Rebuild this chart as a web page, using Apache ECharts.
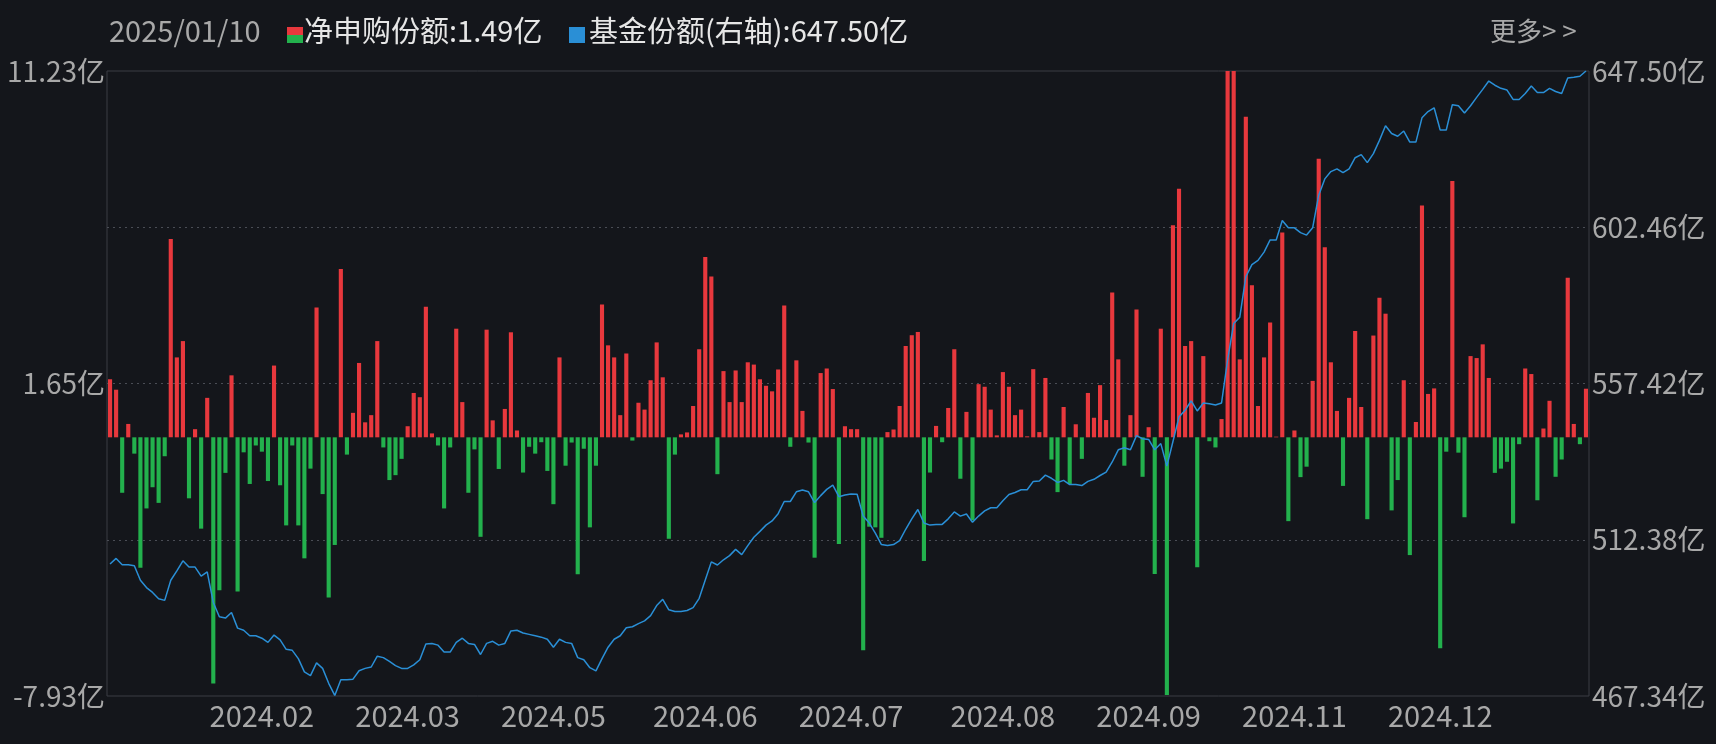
<!DOCTYPE html>
<html><head><meta charset="utf-8">
<script src="https://cdn.jsdelivr.net/npm/echarts@6/dist/echarts.min.js"></script>
<style>html,body{margin:0;padding:0;background:#14161b;}#c{width:1716px;height:744px;}</style>
</head><body><div id="c"></div>
<script>
// Net subscription (亿), one per trading day, oldest first
const netSub = [
1.78,1.46,-1.70,0.41,-0.50,-4.00,-2.18,-1.53,-2.01,-0.58,
6.08,2.45,2.95,-1.87,0.25,-2.80,1.21,-7.55,-4.69,-1.09,
1.90,-4.73,-0.46,-1.43,-0.25,-0.44,-1.34,2.20,-1.47,-2.70,
-0.25,-2.70,-3.71,-0.96,3.98,-1.74,-4.91,-3.30,5.16,-0.53,
0.75,2.28,0.46,0.68,2.95,-0.31,-1.31,-1.16,-0.66,0.34,
1.36,1.23,4.00,0.12,-0.25,-2.18,-0.31,3.33,1.08,-1.70,
-0.37,-3.05,3.30,0.52,-0.97,0.87,3.22,0.21,-1.08,-0.29,
-0.50,-0.15,-1.03,-2.05,2.45,-0.87,-0.16,-4.20,-0.35,-2.76,
-0.87,4.07,2.82,2.45,0.68,2.57,-0.10,1.06,0.85,1.75,
2.91,1.84,-3.11,-0.53,0.09,0.15,0.96,2.70,5.53,4.93,
-1.13,2.03,1.08,2.05,1.08,2.30,2.23,1.78,1.58,1.41,
2.08,4.04,-0.29,2.36,0.81,-0.16,-3.69,1.97,2.11,1.48,
-3.27,0.34,0.25,0.25,-6.53,-2.74,-2.76,-3.08,0.16,0.24,
0.96,2.80,3.13,3.23,-3.79,-1.08,0.35,-0.15,0.90,2.70,
-1.27,0.78,-2.55,1.63,1.55,0.85,0.06,2.00,1.55,0.68,
0.85,0.03,2.09,0.16,1.82,-0.68,-1.68,0.93,-1.43,0.40,
-0.66,1.36,0.60,1.60,0.53,4.44,2.39,-0.87,0.68,3.92,
-1.21,0.31,-4.19,3.33,-7.90,6.50,7.62,2.80,2.95,-3.98,
2.49,-0.12,-0.31,0.56,11.80,11.60,2.39,9.83,4.66,0.96,
2.45,3.52,0.02,6.28,-2.57,0.21,-1.22,-0.90,1.73,8.54,
5.83,2.30,0.81,-1.49,1.21,3.26,0.93,-2.51,3.12,4.28,
3.79,-2.24,-1.31,1.75,-3.61,0.47,7.11,1.33,1.50,-6.47,
-0.44,7.86,-0.47,-2.45,2.49,2.43,2.85,1.82,-1.09,-0.96,
-0.75,-2.64,-0.21,2.11,1.94,-1.93,0.27,1.12,-1.21,-0.68,
4.89,0.41,-0.21,1.49
];
// Fund shares (亿, right axis)
const fundShares = [
505.4,507.0,505.2,505.2,504.9,500.7,498.6,497.2,495.4,494.9,
500.7,503.4,506.3,504.5,504.5,501.9,503.1,494.3,490.2,489.8,
491.4,486.9,486.3,484.7,484.7,484.0,482.8,484.9,483.5,480.8,
480.5,478.1,474.3,473.2,476.9,475.3,471.0,467.5,472.0,472.0,
472.2,474.6,475.3,475.7,478.8,478.4,477.3,476.1,475.3,475.3,
476.3,477.8,482.3,482.5,482.0,480.0,480.0,482.8,484.0,482.5,
482.2,479.3,482.5,483.1,482.0,482.5,486.1,486.3,485.5,485.1,
484.7,484.3,483.7,481.4,483.7,482.8,482.5,478.4,477.8,475.5,
474.6,478.1,481.4,483.7,484.7,487.0,487.3,488.2,489.0,490.5,
493.4,495.2,492.2,491.7,491.7,492.0,492.8,495.5,500.8,506.0,
505.1,506.6,507.8,509.6,508.1,510.7,513.1,514.8,516.6,517.8,
519.9,523.4,523.4,526.2,526.7,526.2,523.1,525.1,526.9,528.1,
524.8,525.3,525.6,525.5,519.2,517.2,514.3,511.0,510.7,511.0,
512.1,515.4,518.4,521.1,517.2,516.6,516.8,516.8,518.4,520.4,
519.2,519.8,517.4,519.2,520.7,521.6,521.6,523.6,525.4,526.0,
526.8,526.8,529.2,529.3,531.0,530.1,528.9,529.5,528.3,528.3,
528.0,529.2,529.8,530.9,531.9,534.8,538.3,538.9,538.3,542.4,
541.5,541.3,538.3,540.1,533.6,540.7,547.8,549.7,552.4,549.5,
551.8,551.6,551.2,551.8,564.2,574.7,576.5,588.2,591.7,592.9,
595.3,598.8,598.8,604.4,602.3,602.3,600.9,600.2,602.3,611.7,
616.4,618.5,619.3,618.2,619.3,622.5,623.4,621.1,623.7,627.5,
631.7,629.5,628.7,630.2,627.0,627.0,634.0,635.8,636.9,630.5,
630.5,637.8,637.5,635.4,637.5,639.9,642.2,644.6,643.4,642.5,
642.0,639.3,639.3,641.0,643.2,641.3,641.3,642.5,641.6,641.0,
645.5,645.7,646.0,647.5
];
const xTickIdx = [9,25,49,73,98,122,147,171,195,219,235];
const xTickLabels = ['2024.01','2024.02','2024.03','2024.05','2024.06','2024.07','2024.08','2024.09','2024.11','2024.12','2025.01'];
const leftTicks = [-7.93,-3.14,1.65,6.44,11.23];
const leftLabelTicks = [-7.93,1.65,11.23];
const rightTicks = [467.34,512.38,557.42,602.46,647.50];

// trading-day categories, counted back from 2025-01-10
const holidays = new Set(['2025-01-01','2024-10-01','2024-10-02','2024-10-03','2024-10-04','2024-10-07','2024-09-16','2024-09-17','2024-06-10','2024-05-01','2024-05-02','2024-05-03','2024-04-04','2024-04-05','2024-02-09','2024-02-12','2024-02-13','2024-02-14','2024-02-15','2024-02-16']);
const dates = [];
(function(){
  let d = new Date(Date.UTC(2025,0,10));
  while (dates.length < netSub.length) {
    const s = d.toISOString().slice(0,10);
    const wd = d.getUTCDay();
    if (wd !== 0 && wd !== 6 && !holidays.has(s)) dates.unshift(s);
    d = new Date(d.getTime() - 86400000);
  }
})();

const FONT = '"Noto Sans CJK SC", "Noto Sans", sans-serif';
const chart = echarts.init(document.getElementById('c'));
chart.setOption({
  backgroundColor: '#14161b',
  animation: false,
  grid: { left: 107, right: 127, top: 71, bottom: 48, show: true, borderColor: '#3a3d44', borderWidth: 1, backgroundColor: 'transparent' },
  xAxis: {
    type: 'category', data: dates, boundaryGap: true,
    axisLine: { show: false }, axisTick: { show: false }, splitLine: { show: false },
    axisLabel: {
      color: '#a8a8a8', fontSize: 29, fontFamily: FONT, margin: 5, hideOverlap: false,
      showMinLabel: false, showMaxLabel: false,
      interval: (i) => xTickIdx.includes(i),
      formatter: (v, i) => { const k = xTickIdx.indexOf(i); return k >= 0 ? xTickLabels[k] : ''; }
    }
  },
  yAxis: [
    { type: 'value', min: -7.93, max: 11.23, position: 'left',
      axisLine: { show: false }, axisTick: { show: false, customValues: leftTicks }, splitLine: { show: false },
      axisLabel: { customValues: leftLabelTicks, color: '#a8a8a8', fontSize: 28, fontFamily: FONT, margin: 2,
        formatter: v => v.toFixed(2) + '亿' } },
    { type: 'value', min: 467.34, max: 647.50, position: 'right',
      axisLine: { show: false }, axisTick: { show: false, customValues: rightTicks }, splitLine: { show: false },
      axisLabel: { customValues: rightTicks, color: '#a8a8a8', fontSize: 28, fontFamily: FONT, margin: 3,
        formatter: v => v.toFixed(2) + '亿' } }
  ],
  series: [
    { type: 'bar', name: '净申购份额', data: netSub, yAxisIndex: 0, barWidth: '68%', z: 3,
      itemStyle: { color: p => p.value >= 0 ? '#e8383d' : '#23b14d' },
      markLine: { silent: true, symbol: 'none', z: 1, label: { show: false },
        lineStyle: { type: [2, 4], color: '#4a4d55', width: 1 },
        data: [{ yAxis: 6.44 }, { yAxis: 1.65 }, { yAxis: -3.14 }] } },
    { type: 'line', name: '基金份额', data: fundShares, yAxisIndex: 1, symbol: 'none', z: 4,
      lineStyle: { color: '#2a8fd6', width: 1.5 } }
  ],
  graphic: [
    { type: 'text', left: 109, top: 16, style: { text: '2025/01/10', fill: '#a8a8a8', font: '29px ' + FONT } },
    { type: 'rect', shape: { x: 287, y: 27, width: 16, height: 8 }, style: { fill: '#e8383d' } },
    { type: 'rect', shape: { x: 287, y: 35, width: 16, height: 8 }, style: { fill: '#23b14d' } },
    { type: 'text', left: 304, top: 16, style: { text: '净申购份额:1.49亿', fill: '#e6e6e6', font: '29px ' + FONT } },
    { type: 'rect', shape: { x: 569, y: 27, width: 16, height: 16 }, style: { fill: '#2a8fd6' } },
    { type: 'text', left: 589, top: 16, style: { text: '基金份额(右轴):647.50亿', fill: '#e6e6e6', font: '29px ' + FONT } },
    { type: 'text', left: 1490, top: 18, style: { text: '更多> >', fill: '#a8a8a8', font: '26px ' + FONT } }
  ]
});
</script></body></html>
